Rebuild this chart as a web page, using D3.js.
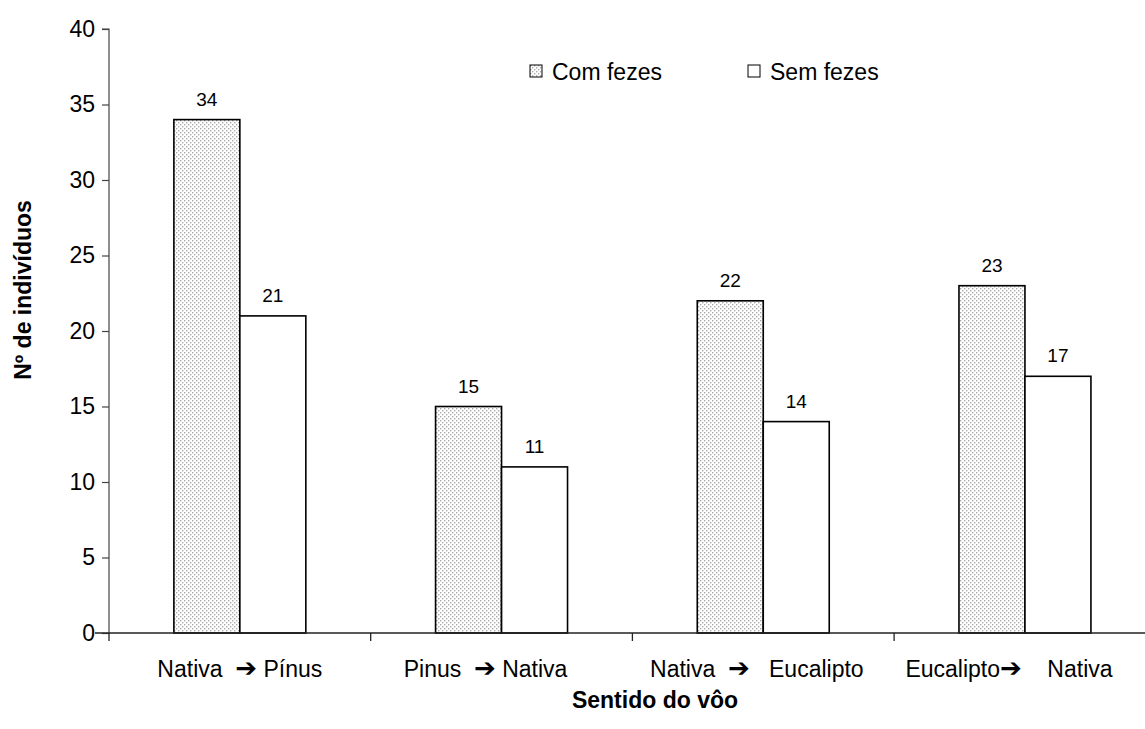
<!DOCTYPE html>
<html><head><meta charset="utf-8">
<script src="https://cdn.jsdelivr.net/npm/d3@7"></script>
<style>body{margin:0;background:#fff}svg{display:block}text{font-family:"Liberation Sans",Arial,sans-serif}</style>
</head><body><svg id="c" width="1145" height="729"></svg>
<script>
const categories = ["Nativa|Pínus", "Pinus|Nativa", "Nativa|Eucalipto", "Eucalipto|Nativa"];
const labelParts = [["Nativa  ", "➔", " Pínus"], ["Pinus  ", "➔", " Nativa     "], ["Nativa  ", "➔", "   Eucalipto  "], ["Eucalipto", "➔", "    Nativa     "]];
const series = ["Com fezes", "Sem fezes"];
const comFezes = [34, 15, 22, 23];
const semFezes = [21, 11, 14, 17];
const yTicks = [0, 5, 10, 15, 20, 25, 30, 35, 40];

(function () {
const svg = d3.select("#c");
const mLeft = 109, mTop = 29, mBottom = 633, band = 261.7;
const x = d3.scaleBand().domain(categories).range([mLeft, mLeft + band * 4]).paddingInner(0).paddingOuter(0);
const xs = d3.scaleBand().domain(series).range([0, band]).paddingInner(0).paddingOuter(0.983);
const y = d3.scaleLinear().domain([0, 40]).range([mBottom, mTop]);

const defs = svg.append("defs");
const pat = defs.append("pattern").attr("id", "dots").attr("patternUnits", "userSpaceOnUse").attr("width", 4).attr("height", 4);
pat.append("rect").attr("width", 4).attr("height", 4).attr("fill", "#fff");
pat.append("rect").attr("x", 0).attr("y", 0).attr("width", 1.4).attr("height", 1.4).attr("fill", "#aaa");
pat.append("rect").attr("x", 2).attr("y", 2).attr("width", 1.4).attr("height", 1.4).attr("fill", "#aaa");

const data = categories.flatMap((c, i) => [
  {c, s: series[0], v: comFezes[i]},
  {c, s: series[1], v: semFezes[i]}
]);

// y axis
const yAxis = d3.axisLeft(y).tickValues(yTicks).tickSize(7).tickPadding(7);
const gy = svg.append("g").attr("transform", `translate(${mLeft},0)`).call(yAxis);
gy.select(".domain").attr("stroke", "#444").attr("stroke-width", 1.2).attr("d", `M-7,${mTop}H0V${mBottom}`);
gy.selectAll(".tick line").attr("stroke", "#444").attr("stroke-width", 1.2);
gy.selectAll(".tick text").attr("font-size", 23).attr("fill", "#000").attr("font-family", "Liberation Sans, Arial, sans-serif");

// bars
svg.append("g").selectAll("rect").data(data).join("rect")
  .attr("x", d => x(d.c) + xs(d.s))
  .attr("y", d => y(d.v))
  .attr("width", xs.bandwidth())
  .attr("height", d => y(0) - y(d.v))
  .attr("fill", d => d.s === series[0] ? "url(#dots)" : "#fff")
  .attr("stroke", "#000").attr("stroke-width", 1.6);

// x axis
const gx = svg.append("g").attr("transform", `translate(0,${mBottom})`);
gx.append("line").attr("x1", mLeft - 14).attr("x2", 1145).attr("y1", 0).attr("y2", 0).attr("stroke", "#222").attr("stroke-width", 1.3);
gx.selectAll("line.t").data(categories.concat(["end"])).join("line").attr("class", "t")
  .attr("x1", (d, i) => mLeft + band * i).attr("x2", (d, i) => mLeft + band * i)
  .attr("y1", 0).attr("y2", 8).attr("stroke", "#222").attr("stroke-width", 1.3);

// x labels
const xl = gx.selectAll("text.xl").data(categories).join("text").attr("class", "xl")
  .attr("x", d => x(d) + x.bandwidth() / 2).attr("y", 44)
  .attr("text-anchor", "middle").attr("font-size", 23).attr("fill", "#000")
  .style("white-space", "pre");
xl.each(function(d, i) {
  const t = d3.select(this);
  const p = labelParts[i];
  t.append("tspan").text(p[0]);
  t.append("tspan").text(p[1]).attr("font-family", "DejaVu Sans").attr("font-weight", "bold").attr("font-size", 26);
  t.append("tspan").text(p[2]);
});

// value labels
svg.append("g").selectAll("text").data(data).join("text")
  .attr("x", d => x(d.c) + xs(d.s) + xs.bandwidth() / 2)
  .attr("y", d => y(d.v) - 14)
  .attr("text-anchor", "middle").attr("font-size", 19).attr("fill", "#000")
  .text(d => d.v);

// legend
const lg = svg.append("g").selectAll("g").data(series).join("g")
  .attr("transform", (d, i) => `translate(${[530, 748][i]},65)`);
lg.append("rect").attr("width", 12).attr("height", 12)
  .attr("fill", (d, i) => i === 0 ? "url(#dots)" : "#fff").attr("stroke", "#000").attr("stroke-width", 1);
lg.append("text").attr("x", 22).attr("y", 15).attr("font-size", 23).attr("fill", "#000").text(d => d);

// axis titles
svg.append("text").attr("transform", "translate(31,290) rotate(-90)").attr("text-anchor", "middle")
  .attr("font-size", 23).attr("font-weight", "bold").text("Nº de indivíduos");
svg.append("text").attr("x", 655).attr("y", 708).attr("text-anchor", "middle")
  .attr("font-size", 23).attr("font-weight", "bold").text("Sentido do vôo");
})();
</script></body></html>
